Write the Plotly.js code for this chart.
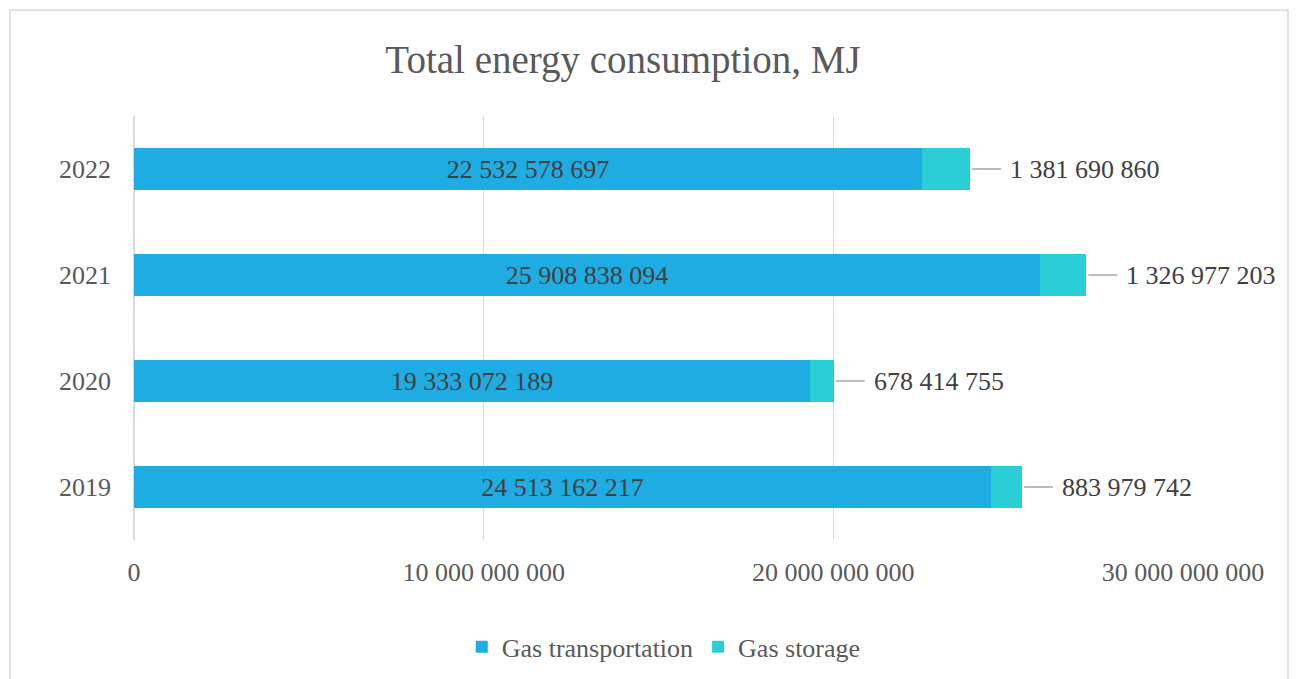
<!DOCTYPE html>
<html><head><meta charset="utf-8">
<script src="https://cdn.plot.ly/plotly-3.0.1.min.js"></script>
<style>html,body{margin:0;padding:0;background:#fff;}#chart{width:1296px;height:679px;}</style>
</head><body><div id="chart"></div>
<script>
const years = ['2019', '2020', '2021', '2022'];
const gasTransportation = [24513162217, 19333072189, 25908838094, 22532578697];
const gasStorage = [883979742, 678414755, 1326977203, 1381690860];
const seriesNames = ['Gas transportation', 'Gas storage'];
const xTicks = [0, 10000000000, 20000000000, 30000000000];

function fmt(v) { return String(Math.round(v)).replace(/\B(?=(\d{3})+(?!\d))/g, ' '); }

const FONT = 'Liberation Serif, Times New Roman, serif';

const traces = [
  {
    type: 'bar', orientation: 'h', name: seriesNames[0],
    y: years, x: gasTransportation,
    marker: {color: '#1FACE2'},
    text: gasTransportation.map(fmt), textposition: 'inside', insidetextanchor: 'middle',
    textfont: {family: FONT, size: 26, color: '#404040'},
    hoverinfo: 'x+name'
  },
  {
    type: 'bar', orientation: 'h', name: seriesNames[1],
    y: years, x: gasStorage,
    marker: {color: '#29CED6'},
    hoverinfo: 'x+name'
  }
];

const annotations = years.map((yr, i) => ({
  x: gasTransportation[i] + gasStorage[i], y: yr, xref: 'x', yref: 'y',
  text: fmt(gasStorage[i]), showarrow: true, arrowhead: 0, arrowwidth: 1.5,
  arrowcolor: '#A6A6A6', ax: 31, ay: 0, xanchor: 'left', standoff: 2, borderpad: 8,
  font: {family: FONT, size: 26, color: '#404040'}
}));

const layout = {
  width: 1296, height: 679,
  margin: {l: 134, r: 113, t: 116, b: 139, autoexpand: false},
  paper_bgcolor: '#fff', plot_bgcolor: '#fff',
  barmode: 'stack', bargap: 0.6,
  separators: ', ',
  font: {family: FONT, size: 26, color: '#595959'},
  title: {text: 'Total energy consumption, MJ', font: {family: FONT, size: 39, color: '#595959'},
          x: 0.4807, xref: 'container', xanchor: 'center', y: 0.912, yref: 'container', yanchor: 'middle'},
  xaxis: {range: [0, 30000000000], tickvals: xTicks, ticktext: xTicks.map(fmt),
          showgrid: true, gridcolor: '#D9D9D9', gridwidth: 1.5, zeroline: true, zerolinecolor: '#D9D9D9', zerolinewidth: 1.5,
          showline: false, ticks: '', ticklabelstandoff: 14,
          tickfont: {family: FONT, size: 26, color: '#595959'}, fixedrange: true},
  yaxis: {categoryorder: 'array', categoryarray: years, showgrid: false, zeroline: false, showline: false,
          ticks: '', ticklabelstandoff: 22, tickfont: {family: FONT, size: 26, color: '#595959'}, fixedrange: true},
  showlegend: true,
  legend: {orientation: 'h', x: 0.505, xanchor: 'center', y: -0.252, yanchor: 'middle',
           font: {family: FONT, size: 26, color: '#595959'}, itemwidth: 30, traceorder: 'normal'},
  annotations: annotations,
  shapes: [{type: 'rect', xref: 'paper', yref: 'paper', x0: -0.1182, x1: 1.1001, y0: -0.4, y1: 1.25,
            line: {color: '#D9D9D9', width: 1.5}, fillcolor: 'rgba(0,0,0,0)', layer: 'below'}]
};

Plotly.newPlot('chart', traces, layout, {displayModeBar: false, staticPlot: true});
</script></body></html>
